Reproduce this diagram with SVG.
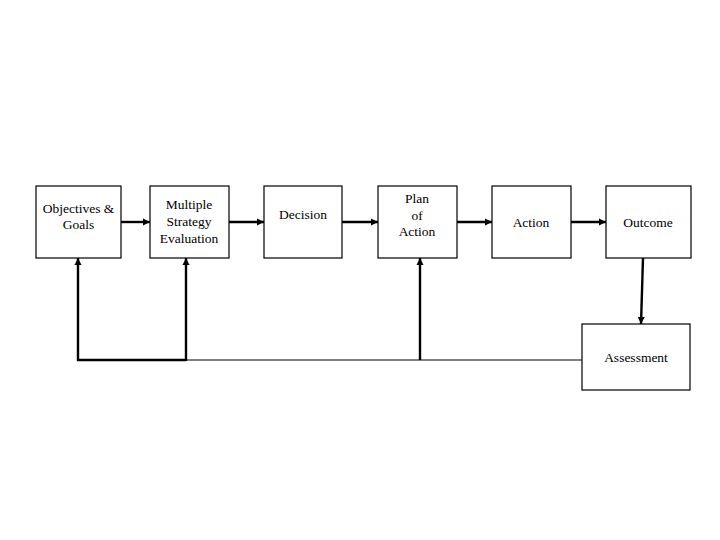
<svg xmlns="http://www.w3.org/2000/svg" width="720" height="540" viewBox="0 0 720 540">
<style>
.box{fill:#fff;stroke:#000;stroke-width:1.2}
.t{font-family:"Liberation Serif","Times New Roman",serif;font-size:13.5px;fill:#000;text-anchor:middle}
.c{stroke:#000;stroke-width:2.4;fill:none}
.thin{stroke:#000;stroke-width:1.2;fill:none}
</style>
<defs>
<marker id="ah" viewBox="0 0 10 10" refX="10" refY="5" markerWidth="3" markerHeight="3" orient="auto" markerUnits="strokeWidth">
<path d="M0,0L10,5L0,10z" fill="#000"/>
</marker>
</defs>
<rect width="720" height="540" fill="#fff"/>
<g id="connectors">
<line class="c" x1="121" y1="222" x2="150" y2="222" marker-end="url(#ah)"/>
<line class="c" x1="229" y1="222" x2="264" y2="222" marker-end="url(#ah)"/>
<line class="c" x1="342" y1="222" x2="378" y2="222" marker-end="url(#ah)"/>
<line class="c" x1="457" y1="222" x2="492" y2="222" marker-end="url(#ah)"/>
<line class="c" x1="571" y1="222" x2="606" y2="222" marker-end="url(#ah)"/>
<line class="c" x1="643" y1="258" x2="641" y2="324" marker-end="url(#ah)"/>
<line class="thin" x1="186" y1="360" x2="582" y2="360"/>
<polyline class="c" points="186,360 78,360 78,258" marker-end="url(#ah)"/>
<line class="c" x1="186" y1="361" x2="186" y2="258" marker-end="url(#ah)"/>
<line class="c" x1="420" y1="360" x2="420" y2="258" marker-end="url(#ah)"/>
</g>
<g id="objectives">
<rect class="box" x="36" y="186" width="85" height="72"/>
<text class="t" x="78.5" y="212.5">Objectives &amp;</text>
<text class="t" x="78.5" y="229">Goals</text>
</g>
<g id="multiple">
<rect class="box" x="150" y="186" width="79" height="72"/>
<text class="t" x="189" y="209">Multiple</text>
<text class="t" x="189" y="226">Strategy</text>
<text class="t" x="189" y="243">Evaluation</text>
</g>
<g id="decision">
<rect class="box" x="264" y="186" width="78" height="72"/>
<text class="t" x="303" y="219">Decision</text>
</g>
<g id="plan">
<rect class="box" x="378" y="186" width="79" height="72"/>
<text class="t" x="417" y="203">Plan</text>
<text class="t" x="417" y="220">of</text>
<text class="t" x="417" y="236">Action</text>
</g>
<g id="action">
<rect class="box" x="492" y="186" width="79" height="72"/>
<text class="t" x="531" y="227">Action</text>
</g>
<g id="outcome">
<rect class="box" x="606" y="186" width="85" height="72"/>
<text class="t" x="648" y="227">Outcome</text>
</g>
<g id="assessment">
<rect class="box" x="582" y="324" width="108" height="66"/>
<text class="t" x="636" y="362">Assessment</text>
</g>
</svg>
